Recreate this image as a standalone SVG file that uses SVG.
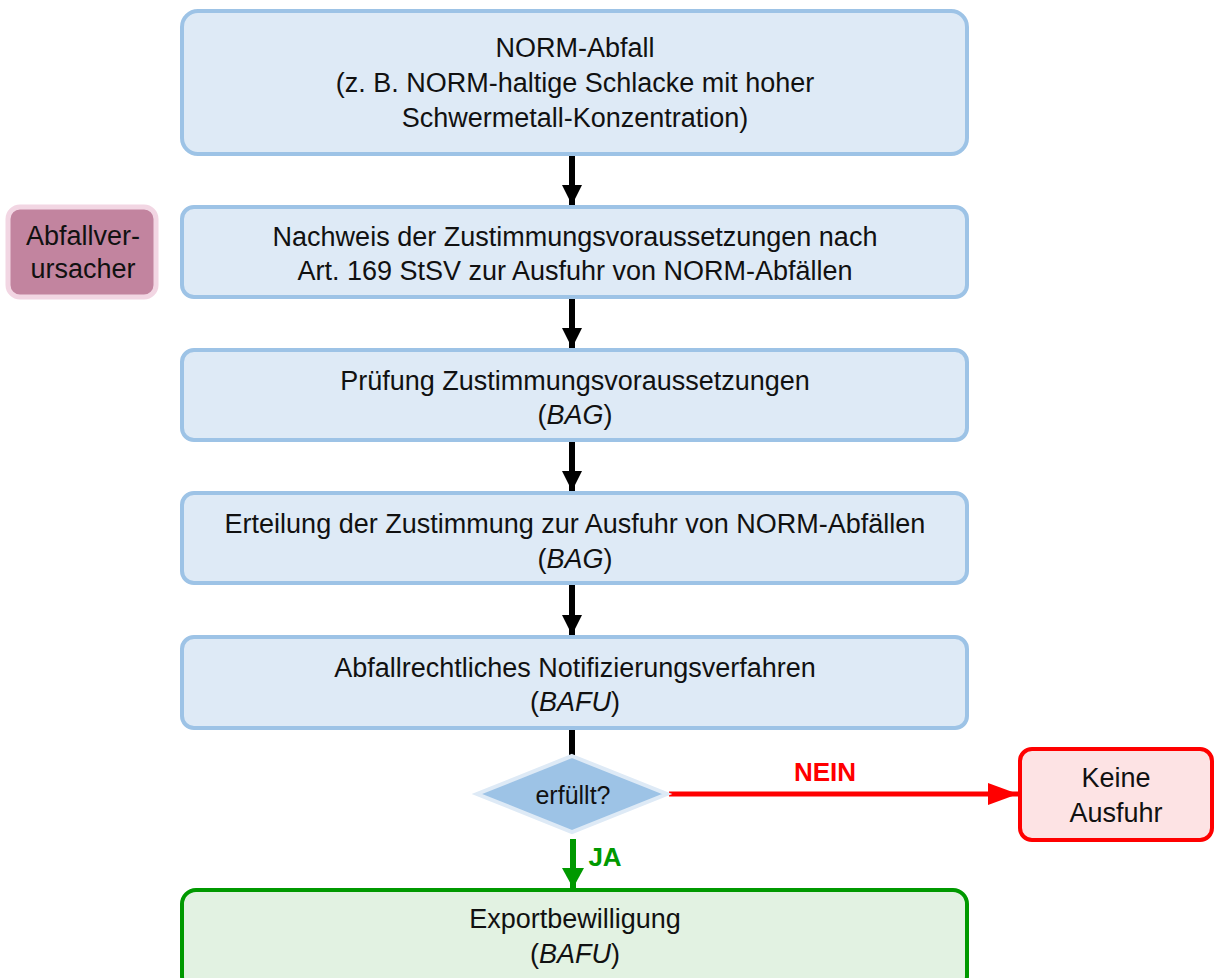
<svg xmlns="http://www.w3.org/2000/svg" width="1216" height="978" viewBox="0 0 1216 978">
<defs>
<style>
text{font-family:"Liberation Sans",Arial,sans-serif;font-size:27px;fill:#111;text-anchor:middle}
.box{fill:#DEEAF6;stroke:#9DC3E6;stroke-width:4}
.blk{stroke:#000;stroke-width:6;fill:none}
</style>
<marker id="ab" markerUnits="userSpaceOnUse" markerWidth="22" markerHeight="20" refX="20" refY="10" orient="auto"><path d="M0,0 L20,10 L0,20 Z" fill="#000"/></marker>
<marker id="ar" markerUnits="userSpaceOnUse" markerWidth="32" markerHeight="22" refX="30" refY="11" orient="auto"><path d="M0,0 L30,11 L0,22 Z" fill="#FF0000"/></marker>
<marker id="ag" markerUnits="userSpaceOnUse" markerWidth="22" markerHeight="22" refX="20" refY="11" orient="auto"><path d="M0,0 L20,11 L0,22 Z" fill="#009900"/></marker>
</defs>
<rect width="1216" height="978" fill="#fff"/>
<g id="connectors">
<line class="blk" x1="572" y1="156" x2="572" y2="205" marker-end="url(#ab)"/>
<line class="blk" x1="572" y1="299" x2="572" y2="348" marker-end="url(#ab)"/>
<line class="blk" x1="572" y1="442" x2="572" y2="491" marker-end="url(#ab)"/>
<line class="blk" x1="572" y1="585" x2="572" y2="635" marker-end="url(#ab)"/>
<line class="blk" x1="572" y1="730" x2="572" y2="757"/>
<line x1="669" y1="794" x2="1018" y2="794" stroke="#FF0000" stroke-width="5" marker-end="url(#ar)"/>
<text x="825" y="781" style="fill:#FF0000;font-weight:bold;font-size:26px">NEIN</text>
<line x1="573" y1="839" x2="573" y2="888" stroke="#009900" stroke-width="6" marker-end="url(#ag)"/>
<text x="605" y="866" style="fill:#009900;font-weight:bold;font-size:26px">JA</text>
</g>
<g id="n1"><rect class="box" x="182" y="11" width="785" height="143" rx="16"/>
<text x="575" y="57">NORM-Abfall</text>
<text x="575" y="92">(z. B. NORM-haltige Schlacke mit hoher</text>
<text x="575" y="127">Schwermetall-Konzentration)</text></g>
<g id="n2"><rect class="box" x="182" y="207" width="785" height="90" rx="12"/>
<text x="575" y="246">Nachweis der Zustimmungsvoraussetzungen nach</text>
<text x="575" y="280">Art. 169 StSV zur Ausfuhr von NORM-Abfällen</text></g>
<g id="actor"><rect x="8" y="207" width="148" height="90" rx="12" fill="#C2849F" stroke="#F2D6E3" stroke-width="5"/>
<text x="83" y="245">Abfallver-</text>
<text x="83" y="278">ursacher</text></g>
<g id="n3"><rect class="box" x="182" y="350" width="785" height="90" rx="12"/>
<text x="575" y="390">Prüfung Zustimmungsvoraussetzungen</text>
<text x="575" y="424">(<tspan font-style="italic">BAG</tspan>)</text></g>
<g id="n4"><rect class="box" x="182" y="493" width="785" height="90" rx="12"/>
<text x="575" y="533">Erteilung der Zustimmung zur Ausfuhr von NORM-Abfällen</text>
<text x="575" y="568">(<tspan font-style="italic">BAG</tspan>)</text></g>
<g id="n5"><rect class="box" x="182" y="637" width="785" height="91" rx="12"/>
<text x="575" y="677">Abfallrechtliches Notifizierungsverfahren</text>
<text x="575" y="711">(<tspan font-style="italic">BAFU</tspan>)</text></g>
<g id="decision"><polygon points="572,756 667,794 572,832 477,794" fill="#9DC3E6" stroke="#DEEAF6" stroke-width="4"/>
<text x="573" y="804" style="font-size:25px">erfüllt?</text></g>
<g id="no"><rect x="1020" y="749" width="192" height="91" rx="12" fill="#FDE3E4" stroke="#FF0000" stroke-width="4"/>
<text x="1116" y="787">Keine</text>
<text x="1116" y="822">Ausfuhr</text></g>
<g id="yes"><rect x="182" y="890" width="785" height="100" rx="14" fill="#E2F2E2" stroke="#009900" stroke-width="4"/>
<text x="575" y="928">Exportbewilligung</text>
<text x="575" y="963">(<tspan font-style="italic">BAFU</tspan>)</text></g>
</svg>
